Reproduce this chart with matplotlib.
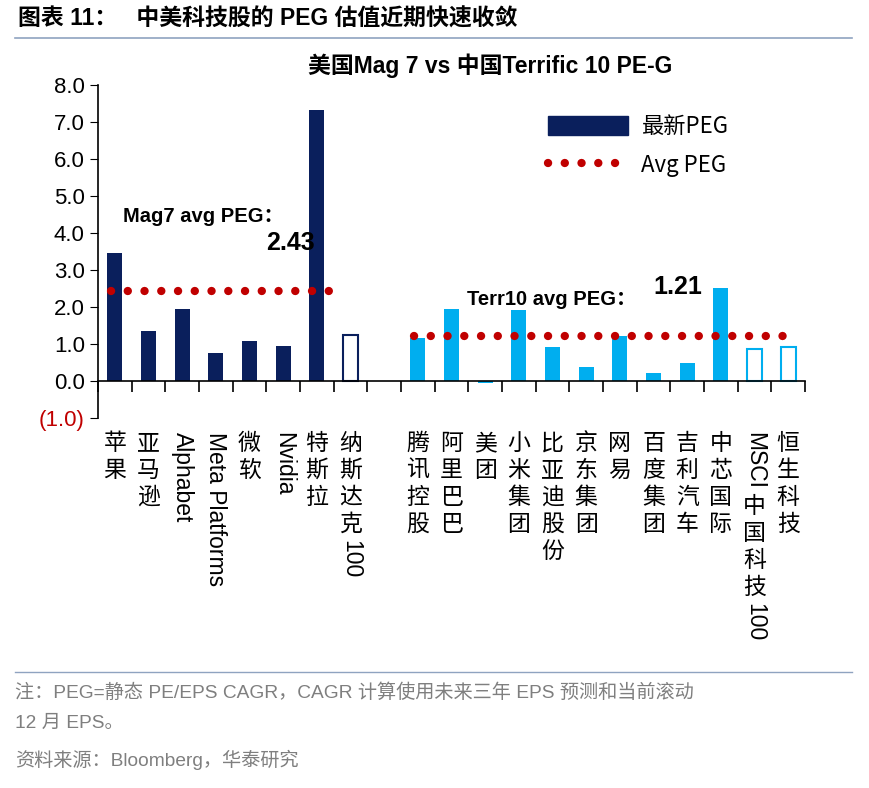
import matplotlib
matplotlib.use("Agg")
import matplotlib.pyplot as plt
from matplotlib.patches import Patch
from matplotlib.lines import Line2D

plt.rcParams['font.family'] = ['Liberation Sans', 'Noto Sans CJK SC', 'DejaVu Sans']

us_names = ["苹果", "亚马逊", "Alphabet", "Meta Platforms", "微软", "Nvidia", "特斯拉", "纳斯达克100"]
us_peg = [3.47, 1.36, 1.95, 0.76, 1.08, 0.95, 7.32, 1.25]
cn_names = ["腾讯控股", "阿里巴巴", "美团", "小米集团", "比亚迪股份", "京东集团", "网易", "百度集团",
            "吉利汽车", "中芯国际", "MSCI 中国科技100", "恒生科技"]
cn_peg = [1.17, 1.95, -0.05, 1.92, 0.92, 0.38, 1.22, 0.22, 0.49, 2.52, 0.87, 0.92]
mag7_avg = 2.43
terr10_avg = 1.21
yticks = [-1, 0, 1, 2, 3, 4, 5, 6, 7, 8]

navy = "#0a1f5c"
cyan = "#00aeef"
red = "#c00000"
dots = (0, (0.01, 2.0))

fig = plt.figure(figsize=(8.69, 7.88), dpi=100)
W, H = 869, 788
ax = fig.add_axes([98 / W, 1 - 418 / H, (805 - 98) / W, (418 - 85) / H])

us_x = list(range(len(us_names)))
cn_x = [len(us_names) + 1 + i for i in range(len(cn_names))]
w = 0.45
for i, (x, v) in enumerate(zip(us_x, us_peg)):
    if i == len(us_x) - 1:
        ax.bar(x, v, w, facecolor="white", edgecolor=navy, linewidth=1.5)
    else:
        ax.bar(x, v, w, color=navy)
for i, (x, v) in enumerate(zip(cn_x, cn_peg)):
    if i >= len(cn_x) - 2:
        ax.bar(x, v, w, facecolor="white", edgecolor=cyan, linewidth=1.5)
    else:
        ax.bar(x, v, w, color=cyan)

ax.plot([us_x[0] - 0.1, us_x[-1] - 0.3], [mag7_avg] * 2, ls=dots, lw=6, color=red, dash_capstyle="round")
ax.plot([cn_x[0] - 0.1, cn_x[-1] + 0.1], [terr10_avg] * 2, ls=dots, lw=6, color=red, dash_capstyle="round")

ax.set_xlim(-0.5, cn_x[-1] + 0.5)
ax.set_ylim(-1, 8)
ax.set_yticks(yticks)
ax.set_yticklabels(["(1.0)" if v < 0 else f"{v:.1f}" for v in yticks], fontsize=16)
ax.get_yticklabels()[0].set_color(red)
ax.tick_params(axis='y', length=6, direction='out')
for s in ["top", "right"]:
    ax.spines[s].set_visible(False)
ax.spines["bottom"].set_position(("data", 0))
ax.spines["bottom"].set_linewidth(1.2)
ax.spines["left"].set_linewidth(1.2)
ax.set_xticks([x + 0.5 for x in range(-1, cn_x[-1] + 1)])
ax.set_xticklabels([])
ax.tick_params(axis='x', length=8, direction='out', width=1.2)

ax.text(0.25, 4.3, "Mag7 avg PEG：", fontsize=14.5, fontweight="bold")
ax.text(5.95, 3.55, "2.43", fontsize=18, fontweight="bold", ha="right")
ax.text(10.45, 2.05, "Terr10 avg PEG：", fontsize=14.5, fontweight="bold")
ax.text(16.0, 2.35, "1.21", fontsize=18, fontweight="bold")

handles = [Patch(color=navy), Line2D([], [], ls=dots, lw=6, color=red, dash_capstyle="round")]
ax.legend(handles, ["最新PEG", "Avg PEG"], loc="upper right", bbox_to_anchor=(0.92, 0.97), frameon=False,
          handlelength=3.6, handleheight=0.9, labelspacing=0.7, handletextpad=0.6,
          prop={'family': ['Noto Sans CJK SC'], 'size': 16})

# category labels, CJK upright, latin rotated
fig.canvas.draw()
renderer = fig.canvas.get_renderer()
fs = 16.5
char_h = 27


def is_cjk(c):
    return ord(c) > 0x2e80


def chunks(s):
    out = []
    for c in s:
        if c == " " and out and out[-1][0]:
            continue
        if out and not is_cjk(c) and not out[-1][0]:
            out[-1][1] += c
        else:
            out.append([is_cjk(c), c])
    return out


for x, name in zip(us_x + cn_x, us_names + cn_names):
    px = ax.transData.transform((x, 0))[0]
    y = H - 432
    for cjk, txt in chunks(name):
        if cjk:
            fig.text(px / W, y / H, txt, fontsize=fs, ha="center", va="top", family=['Noto Sans CJK SC'])
            y -= char_h
        else:
            t = fig.text(px / W, y / H, txt.strip(), fontsize=fs, ha="center", va="top", rotation=270,
                         family=['Liberation Sans'])
            bb = t.get_window_extent(renderer)
            y -= bb.height + 6

fig.text(0.5 + 0.064, 1 - 66 / H, "美国Mag 7 vs 中国Terrific 10 PE-G", fontsize=16.5, fontweight="bold",
         ha="center", va="center")
fig.text(18 / W, 1 - 19 / H, "图表 11：   中美科技股的 PEG 估值近期快速收敛", fontsize=16.5, fontweight="bold",
         va="center")
fig.add_artist(Line2D([15 / W, 852 / W], [1 - 38 / H] * 2, color="#8fa3c0", lw=1.2))
fig.add_artist(Line2D([15 / W, 852 / W], [1 - 672 / H] * 2, color="#8fa3c0", lw=1.0))
gray = "#7f7f7f"
fig.text(15 / W, 1 - 693 / H, "注：PEG=静态 PE/EPS CAGR，CAGR 计算使用未来三年 EPS 预测和当前滚动", fontsize=13.8,
         color=gray, va="center")
fig.text(15 / W, 1 - 723 / H, "12 月 EPS。", fontsize=13.8, color=gray, va="center")
fig.text(15 / W, 1 - 760 / H, "资料来源：Bloomberg，华泰研究", fontsize=13.8, color=gray, va="center")

fig.savefig("out.png", dpi=100)
